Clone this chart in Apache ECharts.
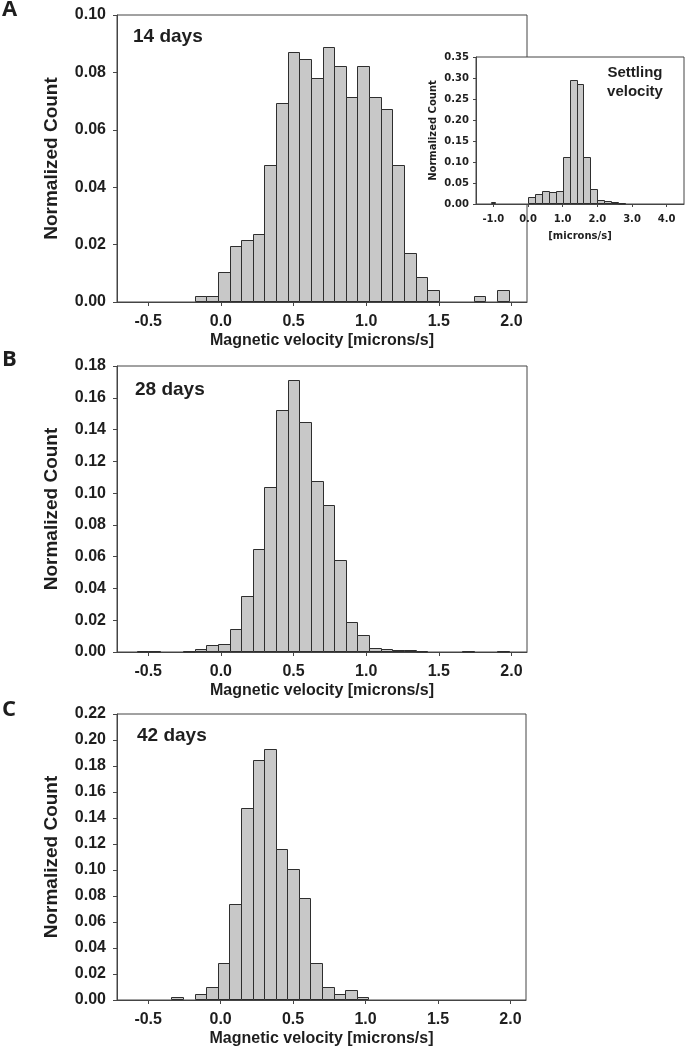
<!DOCTYPE html>
<html>
<head>
<meta charset="utf-8">
<script src="https://cdn.jsdelivr.net/npm/echarts@6/dist/echarts.min.js"></script>
<style>
html,body{margin:0;padding:0;background:#fff;}
#chart{width:685px;height:1050px;}
</style>
</head>
<body>
<div id="chart"></div>
<script>
// ---- Data ----
// Magnetic-velocity histograms: bin left edges (microns/s), bin width 0.08
const binWidthMain = 0.08;
const leftA = [-0.18,-0.10,-0.02,0.06,0.14,0.22,0.30,0.38,0.46,0.54,0.62,0.70,0.78,0.86,0.94,1.02,1.10,1.18,1.26,1.34,1.42,1.74,1.90];
const countA = [0.002,0.002,0.0106,0.0195,0.0215,0.0237,0.0478,0.0695,0.087,0.0848,0.0781,0.089,0.0824,0.0716,0.0824,0.0716,0.0673,0.0478,0.0172,0.0087,0.0043,0.002,0.0043];

const leftB = [-0.58,-0.50,-0.26,-0.18,-0.10,-0.02,0.06,0.14,0.22,0.30,0.38,0.46,0.54,0.62,0.70,0.78,0.86,0.94,1.02,1.10,1.18,1.26,1.34,1.66,1.90];
const countB = [0.0006,0.0006,0.0006,0.0021,0.0042,0.0052,0.0144,0.0354,0.0651,0.104,0.1526,0.171,0.145,0.1078,0.0927,0.0576,0.0188,0.0109,0.0027,0.0019,0.0015,0.0013,0.0006,0.0006,0.0006];

const leftC = [-0.34,-0.18,-0.10,-0.02,0.06,0.14,0.22,0.30,0.38,0.46,0.54,0.62,0.70,0.78,0.86,0.94];
const countC = [0.0026,0.0046,0.0103,0.0286,0.0739,0.1477,0.1848,0.193,0.1163,0.1004,0.0787,0.0286,0.0103,0.0046,0.0077,0.0023];

// Settling-velocity inset: explicit bin edges
const leftS  = [-1.06,0.0,0.2,0.4,0.6,0.8,1.0,1.2,1.4,1.6,1.8,2.0,2.2,2.4,2.6];
const rightS = [-0.94,0.2,0.4,0.6,0.8,1.0,1.2,1.4,1.6,1.8,2.0,2.2,2.4,2.6,2.8];
const countS = [0.004,0.0166,0.023,0.030,0.0277,0.030,0.112,0.296,0.286,0.112,0.035,0.0087,0.0063,0.004,0.003];

// Tick labels
const mainTicks = [-0.5,0.0,0.5,1.0,1.5,2.0];
const insetTicks = [-1.0,0.0,1.0,2.0,3.0,4.0];
const panelLetters = ['A','B','C'];
const panelLabels = ['14 days','28 days','42 days'];
const insetLabel = 'Settling\nvelocity';
const xTitle = 'Magnetic velocity [microns/s]';
const yTitle = 'Normalized Count';
const insetXTitle = '[microns/s]';

// ---- Build ----
function bins(left, counts, width, right) {
  return left.map((l, i) => [l, right ? right[i] : +(l + width).toFixed(4), counts[i]]);
}

const FONT = 'Liberation Sans, Arial, sans-serif';
const IFONT = 'DejaVu Sans, sans-serif';
const AX = '#454545';
const TXT = '#1e1e1e';

function renderBar(params, api) {
  const x0 = api.value(0), x1 = api.value(1), v = api.value(2);
  const p0 = api.coord([x0, v]);
  const p1 = api.coord([x1, 0]);
  const xa = Math.round(p0[0]) + 0.5, xb = Math.round(p1[0]) + 0.5;
  const ya = Math.round(p0[1]) + 0.5, yb = Math.round(p1[1]) - 0.5;
  return {
    type: 'rect',
    shape: { x: xa, y: Math.min(ya, yb), width: xb - xa, height: Math.max(Math.abs(yb - ya), 0.5) },
    style: { fill: '#c8c8c8', stroke: '#2e2e2e', lineWidth: 1 }
  };
}

const grids = [
  { left: 117, top: 15, width: 410, height: 287 },
  { left: 117, top: 366, width: 410, height: 286 },
  { left: 117, top: 714, width: 409, height: 286 }
].map(g => Object.assign(g, { show: true, borderColor: AX, borderWidth: 1, backgroundColor: 'transparent', z: 1 }));
grids.push({ left: 476, top: 57, width: 208, height: 147, show: true, borderColor: AX, borderWidth: 1, backgroundColor: '#ffffff', z: 10 });

const yMax = [0.10, 0.18, 0.22];
const xAxes = [];
const yAxes = [];
for (let i = 0; i < 3; i++) {
  xAxes.push({
    type: 'value', gridIndex: i, min: -0.715, max: 2.107,
    name: xTitle, nameLocation: 'middle', nameGap: 31,
    nameTextStyle: { fontFamily: FONT, fontWeight: 'bold', fontSize: 16, color: TXT },
    axisLine: { show: true, onZero: false, lineStyle: { color: AX, width: 1 } },
    axisTick: { show: true, length: 4, lineStyle: { color: AX }, customValues: mainTicks },
    axisLabel: { show: true, margin: 12, fontFamily: FONT, fontWeight: 'bold', fontSize: 16, color: TXT,
      customValues: mainTicks, formatter: v => Number(v).toFixed(1) },
    splitLine: { show: false }
  });
  yAxes.push({
    type: 'value', gridIndex: i, min: 0, max: yMax[i], interval: 0.02,
    name: yTitle, nameLocation: 'middle', nameGap: 56,
    nameTextStyle: { fontFamily: FONT, fontWeight: 'bold', fontSize: 19, color: TXT },
    axisLine: { show: true, onZero: false, lineStyle: { color: AX, width: 1 } },
    axisTick: { show: true, length: 4, lineStyle: { color: AX } },
    axisLabel: { margin: 11, fontFamily: FONT, fontWeight: 'bold', fontSize: 16, color: TXT,
      formatter: v => Number(v).toFixed(2) },
    splitLine: { show: false }
  });
}
xAxes.push({
  type: 'value', gridIndex: 3, min: -1.5, max: 4.5, z: 11,
  name: insetXTitle, nameLocation: 'middle', nameGap: 27,
  nameTextStyle: { fontFamily: IFONT, fontWeight: 'bold', fontSize: 10, color: TXT },
  axisLine: { show: true, onZero: false, lineStyle: { color: AX, width: 1 } },
  axisTick: { show: true, length: 3, lineStyle: { color: AX }, customValues: insetTicks },
  axisLabel: { margin: 10, fontFamily: IFONT, fontWeight: 'bold', fontSize: 10, color: TXT,
    customValues: insetTicks, formatter: v => Number(v).toFixed(1) },
  splitLine: { show: false }
});
yAxes.push({
  type: 'value', gridIndex: 3, min: 0, max: 0.35, interval: 0.05, z: 11,
  name: yTitle, nameLocation: 'middle', nameGap: 38,
  nameTextStyle: { fontFamily: IFONT, fontWeight: 'bold', fontSize: 10, color: TXT },
  axisLine: { show: true, onZero: false, lineStyle: { color: AX, width: 1 } },
  axisTick: { show: true, length: 3, lineStyle: { color: AX } },
  axisLabel: { margin: 7, fontFamily: IFONT, fontWeight: 'bold', fontSize: 10, color: TXT,
    formatter: v => Number(v).toFixed(2) },
  splitLine: { show: false }
});

const series = [
  bins(leftA, countA, binWidthMain),
  bins(leftB, countB, binWidthMain),
  bins(leftC, countC, binWidthMain),
  bins(leftS, countS, 0, rightS)
].map((d, i) => ({
  type: 'custom', xAxisIndex: i, yAxisIndex: i, z: i === 3 ? 12 : 2,
  renderItem: renderBar, encode: { x: [0, 1], y: 2 }, data: d, silent: true
}));

const letterY = [10, 360, 710];
const labelY = [37, 390, 736];
const labelX = [133, 135, 137];
const graphic = [];
for (let i = 0; i < 3; i++) {
  graphic.push({ type: 'text', x: 2, y: letterY[i], z: 100,
    style: { text: panelLetters[i], font: 'bold 22px "Open Sans", sans-serif', fill: TXT, verticalAlign: 'middle', align: 'left' } });
  graphic.push({ type: 'text', x: labelX[i], y: labelY[i], z: 100,
    style: { text: panelLabels[i], font: 'bold 19px "Liberation Sans", Arial, sans-serif', fill: TXT, verticalAlign: 'middle', align: 'left' } });
}
graphic.push({ type: 'text', x: 635, y: 82, z: 100,
  style: { text: insetLabel, font: 'bold 15px "Liberation Sans", Arial, sans-serif', fill: TXT, lineHeight: 19, verticalAlign: 'middle', align: 'center' } });

const chart = echarts.init(document.getElementById('chart'), null, { renderer: 'canvas', width: 685, height: 1050 });
chart.setOption({
  animation: false,
  backgroundColor: '#ffffff',
  grid: grids,
  xAxis: xAxes,
  yAxis: yAxes,
  series: series,
  graphic: graphic
});
</script>
</body>
</html>
